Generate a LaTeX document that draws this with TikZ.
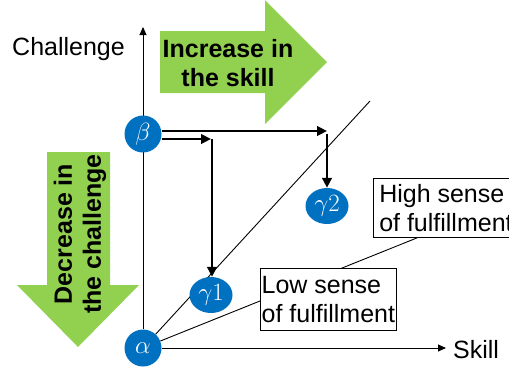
\documentclass[tikz,border=0pt]{standalone}
\usepackage{fontspec}
\setmainfont{Liberation Sans}
\usetikzlibrary{arrows.meta,calc,backgrounds,shapes.geometric}
\definecolor{nodeblue}{RGB}{0,112,192}
\definecolor{arrowgreen}{RGB}{146,208,80}
\begin{document}
\begin{tikzpicture}[x=1pt,y=-1pt,
  txt/.style={font=\fontsize{25}{29}\selectfont},
  boldtxt/.style={font=\fontsize{25}{29}\selectfont\bfseries, align=center},
  dot/.style={circle, fill=nodeblue, text=white, minimum size=37pt, inner sep=0pt, font=\fontsize{28}{30}\selectfont},
  oval/.style={ellipse, fill=nodeblue, text=white, minimum width=43pt, minimum height=36pt, inner sep=0pt, font=\fontsize{28}{30}\selectfont},
  box/.style={draw, line width=0.9pt, fill=white, align=left, font=\fontsize{25}{29}\selectfont, inner xsep=1.2pt, inner ysep=3pt, anchor=north west},
  axis/.style={line width=0.9pt, -{Triangle[length=8pt,width=7pt]}},
  flow/.style={line width=2.7pt, -{Triangle[length=10pt,width=9.5pt]}},
  thinline/.style={line width=0.9pt}
]
\useasboundingbox (0,0) rectangle (509,368);

% green arrows
\fill[arrowgreen] (160,31) -- (265,31) -- (265,0) -- (327,62) -- (265,124) -- (265,93) -- (160,93) -- cycle;
\node[boldtxt] (inc) at (228,63) {Increase in\\the skill};
\fill[arrowgreen] (47,152) -- (110,152) -- (110,285) -- (139,285) -- (78,347) -- (17,285) -- (47,285) -- cycle;
\node[boldtxt, rotate=90] (dec) at (80,234) {Decrease in\\the challenge};

% labels
\node[txt, anchor=base west, inner sep=0pt] (chal) at (12,55) {Challenge};
\node[txt, anchor=base west, inner sep=0pt] (skill) at (453,358) {Skill};

% nodes
\node[dot] (alpha) at (143,348) {$\alpha$};
\node[dot] (beta) at (143,134) {$\beta$};
\node[oval] (g1) at (211,295) {$\gamma1$};
\node[oval] (g2) at (327,206) {$\gamma2$};
\node[box, minimum height=62pt] (low) at (260,268) {Low sense\\of fulfillment};
\node[box, minimum height=59pt, minimum width=145pt] (high) at (373,178) {High sense\\of fulfillment};

\coordinate (ytip) at (143,27);
\coordinate (xtip) at (446,348);
\coordinate (diag) at (370,101);
\coordinate (c2) at (327,131);
\coordinate (c1) at (212,139);

\begin{scope}[on background layer]
  \draw[axis] (alpha) -- (ytip);
  \draw[axis] (alpha) -- (xtip);
  \draw[thinline] (alpha) -- (diag);
  \draw[thinline] (alpha) -- ($(high.south west)+(44,0)$);
\end{scope}

% flow arrows
\draw[flow] (beta.east |- c2) -- (c2);
\draw[flow] ($(c2)+(0,3)$) -- (g2.north);
\draw[flow] (beta.east |- c1) -- ($(c1)+(-1,0)$);
\draw[flow] (c1) -- (c1 |- g1.north);
\end{tikzpicture}
\end{document}
